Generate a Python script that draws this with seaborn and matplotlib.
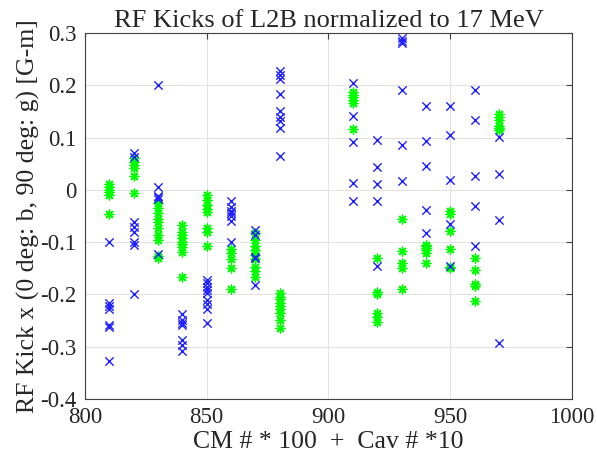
import numpy as np
import pandas as pd
import matplotlib
matplotlib.use("Agg")
import matplotlib.pyplot as plt
import seaborn as sns

# =====================
# DATA
# =====================
cav_0deg = [810] * 7 + [820] * 8 + [830] * 6 + [840] * 7 + [850] * 9 + [860] * 7 + \
    [870] * 5 + [880] * 9 + [910] * 5 + [920] * 5 + [930] * 6 + [940] * 5 + \
    [950] * 5 + [960] * 5 + [970] * 4
kick_0deg = [
    -0.099, -0.217, -0.223, -0.228, -0.258, -0.263, -0.327,               # 810
    0.071, 0.063, -0.062, -0.071, -0.081, -0.100, -0.105, -0.200,         # 820
    0.200, 0.006, -0.011, -0.014, -0.017, -0.123,                         # 830
    -0.237, -0.249, -0.255, -0.258, -0.288, -0.297, -0.308,               # 840
    -0.172, -0.179, -0.185, -0.191, -0.198, -0.211, -0.218, -0.227, -0.254,  # 850
    -0.022, -0.032, -0.040, -0.045, -0.051, -0.059, -0.100,               # 860
    -0.077, -0.086, -0.128, -0.131, -0.182,                               # 870
    0.228, 0.220, 0.212, 0.183, 0.150, 0.140, 0.132, 0.118, 0.065,        # 880
    0.204, 0.142, 0.091, 0.013, -0.022,                                   # 910
    0.096, 0.043, 0.011, -0.021, -0.145,                                  # 920
    0.290, 0.284, 0.280, 0.191, 0.086, 0.016,                             # 930
    0.161, 0.093, 0.045, -0.038, -0.083,                                  # 940
    0.161, 0.104, 0.019, -0.065, -0.145,                                  # 950
    0.190, 0.133, 0.027, -0.030, -0.107,                                  # 960
    0.101, 0.031, -0.057, -0.292,                                         # 970
]

cav_90deg = [810] * 6 + [820] * 6 + [830] * 10 + [840] * 9 + [850] * 8 + [860] * 5 + \
    [870] * 9 + [880] * 9 + [910] * 6 + [920] * 6 + [930] * 5 + [940] * 6 + \
    [950] * 6 + [960] * 5 + [970] * 6
kick_90deg = [
    0.012, 0.005, 0.000, -0.005, -0.010, -0.047,                          # 810
    0.061, 0.054, 0.048, 0.041, 0.027, -0.006,                            # 820
    -0.026, -0.034, -0.045, -0.056, -0.062, -0.073, -0.086, -0.096, -0.126, -0.131,  # 830
    -0.068, -0.080, -0.086, -0.093, -0.099, -0.103, -0.110, -0.119, -0.166,  # 840
    -0.010, -0.019, -0.029, -0.037, -0.043, -0.073, -0.080, -0.107,       # 850
    -0.114, -0.121, -0.133, -0.150, -0.190,                               # 860
    -0.083, -0.096, -0.107, -0.115, -0.124, -0.133, -0.148, -0.156, -0.166,  # 870
    -0.198, -0.204, -0.209, -0.216, -0.222, -0.227, -0.235, -0.248, -0.265,  # 880
    0.188, 0.182, 0.177, 0.172, 0.167, 0.117,                             # 910
    -0.131, -0.195, -0.199, -0.235, -0.244, -0.252,                       # 920
    -0.056, -0.117, -0.140, -0.150, -0.190,                               # 930
    -0.105, -0.108, -0.112, -0.115, -0.120, -0.140,                       # 940
    -0.041, -0.046, -0.078, -0.113, -0.147, -0.150,                       # 950
    -0.130, -0.154, -0.180, -0.184, -0.212,                               # 960
    0.145, 0.139, 0.134, 0.123, 0.118, 0.115,                             # 970
]

df_b = pd.DataFrame({"cav": cav_0deg, "kick": kick_0deg})
df_g = pd.DataFrame({"cav": cav_90deg, "kick": kick_90deg})

# =====================
# PLOT
# =====================
sns.set_style("white")
plt.rcParams["font.family"] = ["Liberation Serif", "DejaVu Serif"]

fig = plt.figure(figsize=(5.97, 4.71), dpi=100)
ax = fig.add_axes([0.1424, 0.1529, 0.8156, 0.7771])

sns.scatterplot(data=df_g, x="cav", y="kick", ax=ax, marker=(8, 2, 0), s=40,
                color="#00ff00", edgecolor="#00ff00", linewidth=1.0, legend=False)
sns.scatterplot(data=df_b, x="cav", y="kick", ax=ax, marker="x", s=36,
                color="#1f1fff", linewidth=1.0, legend=False)

ax.set_xlim(800, 1000)
ax.set_ylim(-0.4, 0.3)
ax.set_xticks(np.arange(800, 1001, 50))
ax.set_yticks(np.round(np.arange(-0.4, 0.31, 0.1), 1))
ax.set_yticklabels(["-0.4", "-0.3", "-0.2", "-0.1", "0", "0.1", "0.2", "0.3"])
ax.grid(True, color="#e3e3e3", linewidth=0.8)
ax.set_axisbelow(True)
ax.tick_params(direction="in", length=4, width=0.8, color="#404040",
               labelsize=16.5, top=True, right=True)
ax.tick_params(axis="y", pad=6)
ax.tick_params(axis="x", pad=6)
for sp in ax.spines.values():
    sp.set_color("#404040")
    sp.set_linewidth(0.8)

ax.set_title("RF Kicks of L2B normalized to 17 MeV", fontsize=19, pad=4)
ax.set_xlabel("CM # * 100  +  Cav # *10", fontsize=18.5, labelpad=2)
ax.set_ylabel("RF Kick x (0 deg: b, 90 deg: g) [G-m]", fontsize=18.5, labelpad=0)

fig.savefig("out.png", dpi=100)
